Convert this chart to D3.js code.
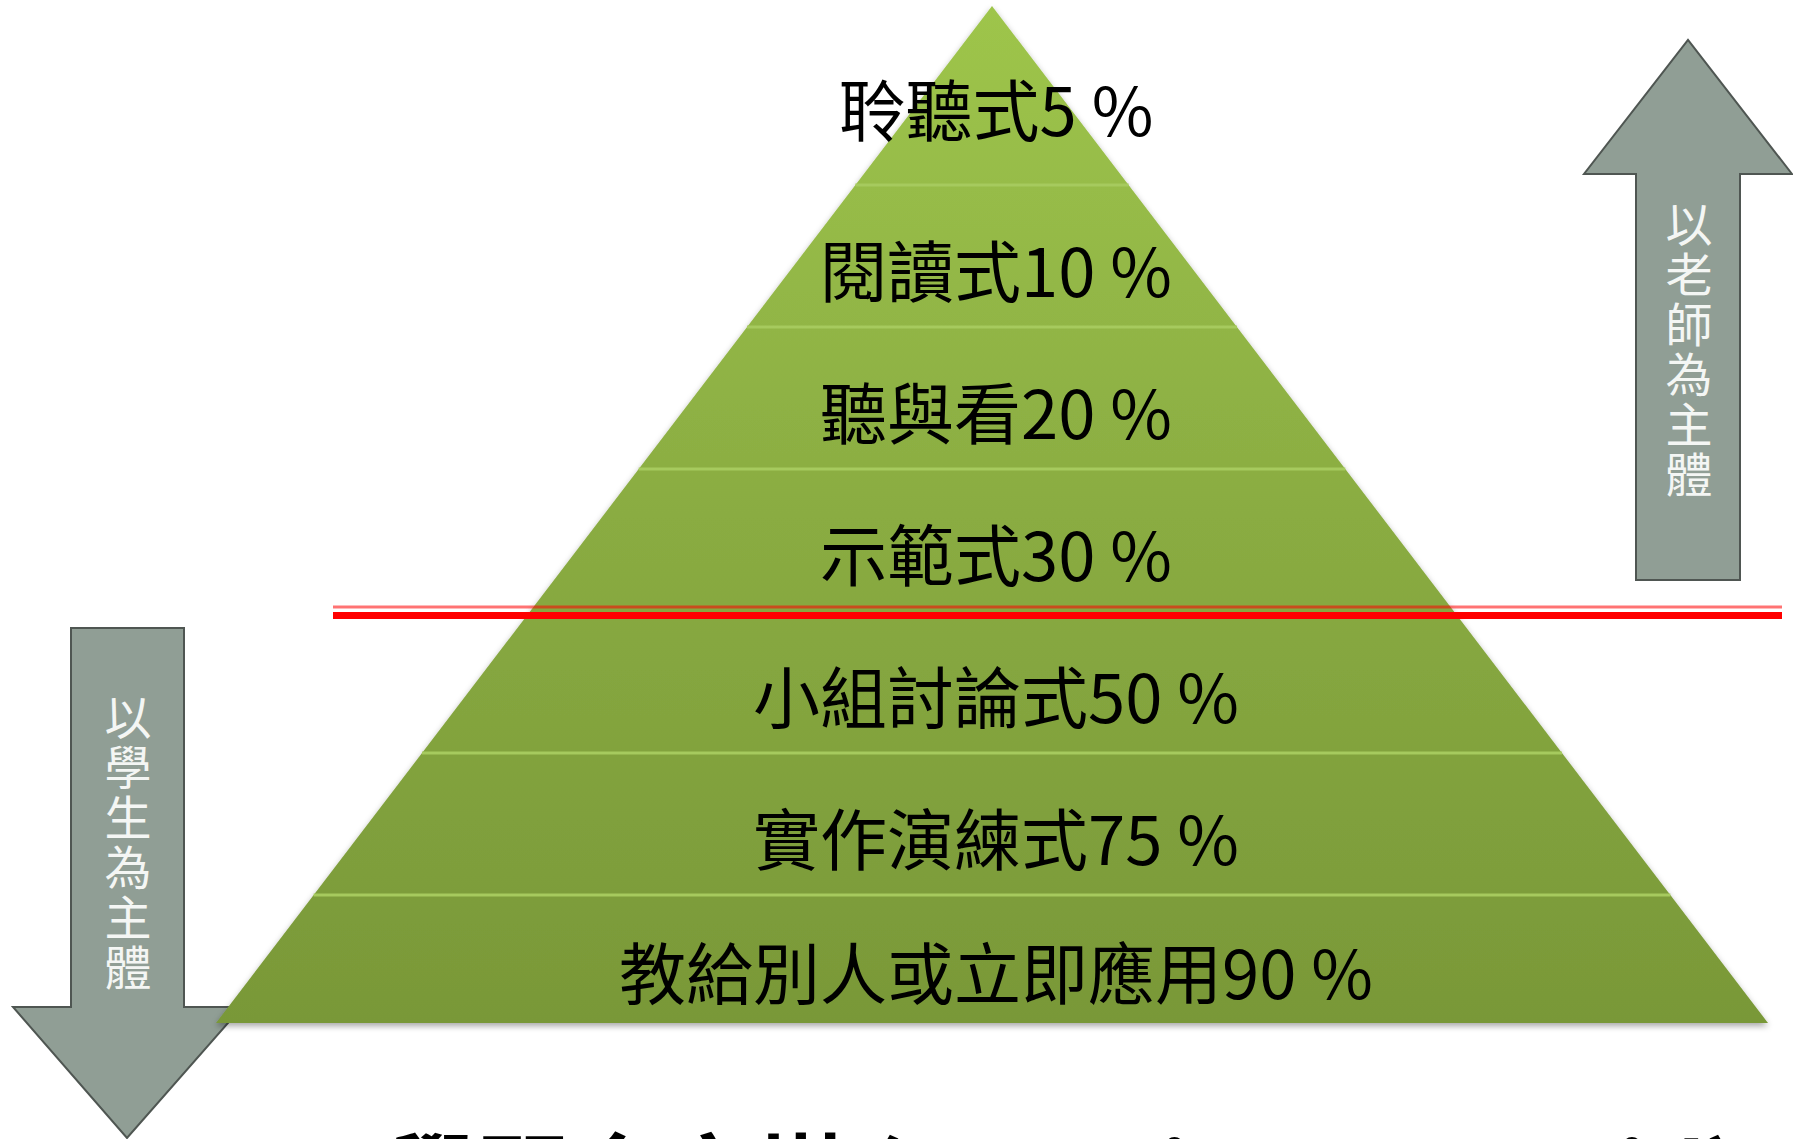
<!DOCTYPE html>
<html>
<head>
<meta charset="utf-8">
<script src="https://cdn.jsdelivr.net/npm/d3@7"></script>
<style>
  html, body { margin: 0; padding: 0; background: #fff; }
  svg { display: block; }
</style>
</head>
<body>
<div id="chart"></div>
<script>
// learning pyramid levels, top to bottom
const levels = ["聆聽式", "閱讀式", "聽與看", "示範式", "小組討論式", "實作演練式", "教給別人或立即應用"];
const retention = [5, 10, 20, 30, 50, 75, 90];
const splitBefore = "小組討論式"; // red line: teacher-led above, student-led below
const teacherLabel = "以老師為主體";
const studentLabel = "以學生為主體";
const title = "學習金字塔 (Learning Pyramid)";

const W = 1793, H = 1139;
const font = "'Noto Sans CJK TC', 'Noto Sans CJK SC', 'Noto Sans', sans-serif";

const svg = d3.select("#chart").append("svg")
  .attr("width", W)
  .attr("height", H)
  .attr("viewBox", `0 0 ${W} ${H}`);

const defs = svg.append("defs");
const grad = defs.append("linearGradient")
  .attr("id", "pyr")
  .attr("gradientUnits", "userSpaceOnUse")
  .attr("x1", 0).attr("y1", 6).attr("x2", 0).attr("y2", 1023);
grad.append("stop").attr("offset", "0%").attr("stop-color", "#9ec54b");
grad.append("stop").attr("offset", "50%").attr("stop-color", "#8aac42");
grad.append("stop").attr("offset", "100%").attr("stop-color", "#799838");

const shadow = defs.append("filter").attr("id", "shadow")
  .attr("x", "-5%").attr("y", "-5%").attr("width", "110%").attr("height", "115%");
shadow.append("feDropShadow")
  .attr("dx", 0).attr("dy", 3).attr("stdDeviation", 3)
  .attr("flood-color", "#000").attr("flood-opacity", 0.35);

const blur = defs.append("filter").attr("id", "blur");
blur.append("feGaussianBlur").attr("stdDeviation", 1);

// pyramid geometry
const apexY = 6, baseY = 1023, cx = 992, halfBase = 776;
const y = d3.scaleBand().domain(levels).range([44, 1038]).paddingInner(0);
const halfW = d3.scaleLinear().domain([apexY, baseY]).range([0, halfBase]);

function closed(pts) { return d3.line()(pts) + "Z"; }

const arrowFill = "#909e95", arrowStroke = "#4f5652";

// one character per line, stacked down the arrow shaft
function verticalLabel(text, x, firstCenter) {
  svg.append("g").selectAll("text")
    .data(Array.from(text))
    .join("text")
    .attr("x", x)
    .attr("y", (d, i) => firstCenter + i * 50)
    .attr("text-anchor", "middle")
    .attr("dominant-baseline", "central")
    .attr("fill", "#f4f6f4")
    .style("font-family", font)
    .style("font-size", "47px")
    .text(d => d);
}

// --- left arrow (student), drawn under the pyramid
svg.append("path")
  .attr("d", closed([[71, 628], [184, 628], [184, 1007], [242, 1007], [127, 1138], [13, 1007], [71, 1007]]))
  .attr("fill", arrowFill)
  .attr("stroke", arrowStroke)
  .attr("stroke-width", 2);
verticalLabel(studentLabel, 128, 714);

// --- right arrow (teacher)
svg.append("path")
  .attr("d", closed([[1636, 580], [1636, 174], [1584, 174], [1688, 40], [1792, 174], [1740, 174], [1740, 580]]))
  .attr("fill", arrowFill)
  .attr("stroke", arrowStroke)
  .attr("stroke-width", 2);
verticalLabel(teacherLabel, 1689, 221);

// --- pyramid layers
const layers = levels.map((l, i) => {
  const top = i === 0 ? apexY : y(l);
  const bottom = i === levels.length - 1 ? baseY : y(l) + y.step();
  return { label: l, value: retention[i], top, bottom };
});

const pyr = svg.append("g").attr("filter", "url(#shadow)");
pyr.selectAll("path.layer")
  .data(layers)
  .join("path")
  .attr("class", "layer")
  .attr("d", d => closed([
    [cx - halfW(d.top), d.top], [cx + halfW(d.top), d.top],
    [cx + halfW(d.bottom), d.bottom], [cx - halfW(d.bottom), d.bottom]
  ]))
  .attr("fill", "url(#pyr)");

// separators between layers (shadow + highlight)
const seps = layers.slice(1).filter(d => d.label !== splitBefore).map(d => d.top);
const sepG = svg.append("g");
sepG.selectAll("line.dark")
  .data(seps)
  .join("line")
  .attr("x1", d => cx - halfW(d + 2))
  .attr("x2", d => cx + halfW(d + 2))
  .attr("y1", d => d + 2).attr("y2", d => d + 2)
  .attr("stroke", "#567424")
  .attr("stroke-width", 3)
  .attr("opacity", 0.8)
  .attr("filter", "url(#blur)");
sepG.selectAll("line.light")
  .data(seps)
  .join("line")
  .attr("x1", d => cx - halfW(d - 1))
  .attr("x2", d => cx + halfW(d - 1))
  .attr("y1", d => d - 1).attr("y2", d => d - 1)
  .attr("stroke", "#a6ca5e")
  .attr("stroke-width", 3);

// layer labels
svg.append("g").selectAll("text")
  .data(layers)
  .join("text")
  .attr("x", cx + 4)
  .attr("y", d => (d.top + d.bottom) / 2 + 10)
  .attr("text-anchor", "middle")
  .attr("dominant-baseline", "central")
  .attr("fill", "#000")
  .style("font-family", font)
  .style("font-size", "67px")
  .text(d => `${d.label}${d.value} %`);

// red dividing line
const splitY = y(splitBefore);
svg.append("line")
  .attr("x1", 333).attr("x2", 1782)
  .attr("y1", splitY - 5).attr("y2", splitY - 5)
  .attr("stroke", "#ff0000")
  .attr("stroke-opacity", 0.55)
  .attr("stroke-width", 3);
svg.append("line")
  .attr("x1", 333).attr("x2", 1782)
  .attr("y1", splitY + 3.5).attr("y2", splitY + 3.5)
  .attr("stroke", "#ff0000")
  .attr("stroke-width", 7);

// title, cut off at the bottom edge
svg.append("text")
  .attr("x", 385)
  .attr("y", 1212)
  .attr("textLength", 1355)
  .attr("lengthAdjust", "spacing")
  .attr("fill", "#000")
  .style("font-family", font)
  .style("font-weight", "bold")
  .style("font-size", "93px")
  .text(title);
</script>
</body>
</html>
